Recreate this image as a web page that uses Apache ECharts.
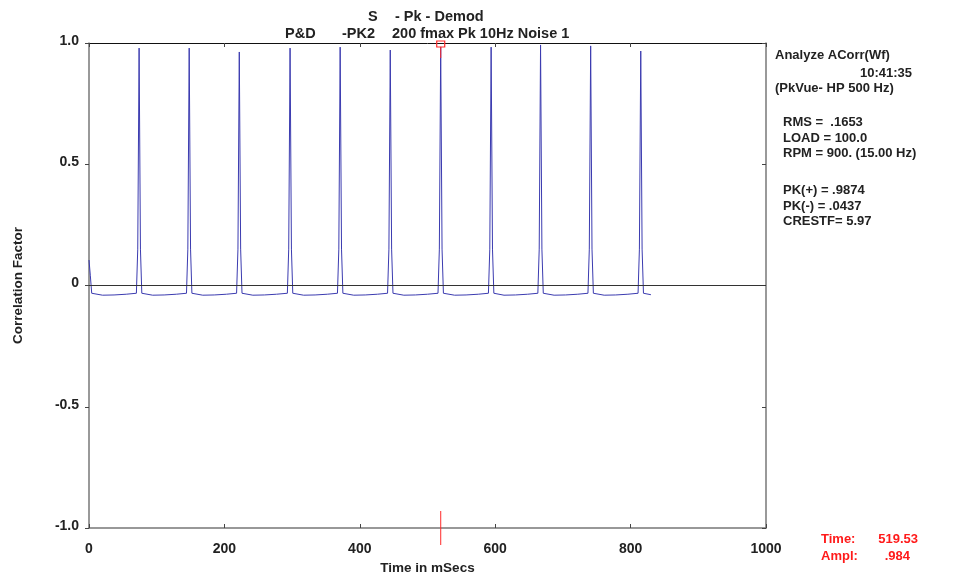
<!DOCTYPE html>
<html>
<head>
  <meta charset="utf-8">
  <title>Analyze ACorr(Wf)</title>
  <script src="https://cdn.jsdelivr.net/npm/echarts@6/dist/echarts.min.js"></script>
</head>
<style media="screen">
  html, body, #chart { margin: 0; padding: 0; width: 957px; height: 581px; background: #fff; }
</style>
<body>
  <div id="chart"></div>
  <script type="text/javascript">
    // autocorrelation trace, [ms, correlation]
    var trace = [
      [0, 0.105], [2, 0.04], [4, -0.032], [20, -0.04], [37, -0.039], [55, -0.036],
      [70, -0.032], [72, 0.15], [74, 0.979], [76, 0.15], [78, -0.032], [94, -0.04], [111, -0.039], [129, -0.036],
      [144, -0.032], [146, 0.15], [148, 0.979], [150, 0.15], [152, -0.032], [168, -0.04], [185, -0.039], [203, -0.036],
      [218, -0.032], [220, 0.15], [222, 0.963], [224, 0.15], [226, -0.032], [242, -0.04], [259, -0.039], [277, -0.036],
      [293, -0.032], [295, 0.15], [297, 0.979], [299, 0.15], [301, -0.032], [317, -0.04], [334, -0.039], [352, -0.036],
      [367, -0.032], [369, 0.15], [371, 0.983], [373, 0.15], [375, -0.032], [391, -0.04], [408, -0.039], [426, -0.036],
      [441, -0.032], [443, 0.15], [445, 0.971], [447, 0.15], [449, -0.032], [465, -0.04], [482, -0.039], [500, -0.036],
      [515.5, -0.032], [517.5, 0.15], [519.5, 0.984], [521.5, 0.15], [523.5, -0.032], [540, -0.04], [557, -0.039], [575, -0.036],
      [590, -0.032], [592, 0.15], [594, 0.983], [596, 0.15], [598, -0.032], [613, -0.04], [630, -0.039], [648, -0.036],
      [663, -0.032], [665, 0.15], [667, 0.992], [669, 0.15], [671, -0.032], [687, -0.04], [704, -0.039], [722, -0.036],
      [737, -0.032], [739, 0.15], [741, 0.988], [743, 0.15], [745, -0.032], [761, -0.04], [778, -0.039], [796, -0.036],
      [811, -0.032], [813, 0.15], [815, 0.967], [817, 0.15], [819, -0.032], [830, -0.038]
    ];
    var cursorTime = 519.53;
    var cursorAmpl = 0.984;
    var xTicks = [0, 200, 400, 600, 800, 1000];
    var yTicks = [-1.0, -0.5, 0, 0.5, 1.0];

    var font = 'Liberation Sans, Arial, sans-serif';
    var ink = '#222';

    // y is the text's vertical centre
    function txt(x, y, s, opt) {
      opt = opt || {};
      var size = opt.size || 13;
      return {
        type: 'text', left: x, top: Math.round(y - size / 2) + 1,
        style: { text: s, fill: opt.color || ink, font: 'bold ' + size + 'px ' + font }
      };
    }
    function rtxt(right, y, s, color) {
      return {
        type: 'text', right: 957 - right, top: Math.round(y - 6.5) + 1,
        style: { text: s, fill: color || ink, font: 'bold 13px ' + font }
      };
    }

    var tickLabel = { color: ink, fontWeight: 'bold', fontSize: 14, fontFamily: font };

    var chart = echarts.init(document.getElementById('chart'));
    chart.setOption({
      animation: false,
      backgroundColor: '#fff',
      grid: { left: 89, right: 191, top: 43, bottom: 53, show: false, outerBoundsMode: 'none', containLabel: false },
      xAxis: [{
        type: 'value', min: xTicks[0], max: xTicks[xTicks.length - 1], interval: 200,
        name: 'Time in mSecs', nameLocation: 'middle', nameGap: 33,
        nameTextStyle: { color: ink, fontWeight: 'bold', fontSize: 13.5, fontFamily: font },
        axisLine: { show: true, onZero: false, lineStyle: { color: '#777', width: 1.5 } },
        axisTick: { show: true, inside: true, length: 4, lineStyle: { color: '#444' } },
        axisLabel: Object.assign({ margin: 14, formatter: function (v) { return String(v); } }, tickLabel),
        splitLine: { show: false }
      }, {
        type: 'value', position: 'top', min: xTicks[0], max: xTicks[xTicks.length - 1], interval: 200,
        axisLine: { show: true, onZero: false, lineStyle: { color: '#111', width: 1 } },
        axisTick: { show: true, inside: true, length: 4, lineStyle: { color: '#444' } },
        axisLabel: { show: false },
        splitLine: { show: false }
      }],
      yAxis: [{
        type: 'value', min: yTicks[0], max: yTicks[yTicks.length - 1], interval: 0.5,
        name: 'Correlation Factor', nameLocation: 'middle', nameGap: 64, nameRotate: 90,
        nameTextStyle: { color: ink, fontWeight: 'bold', fontSize: 13.5, fontFamily: font },
        axisLine: { show: true, onZero: false, lineStyle: { color: '#777', width: 1.5 } },
        axisTick: { show: true, inside: false, length: 4, lineStyle: { color: '#444' } },
        axisLabel: Object.assign({
          margin: 10,
          formatter: function (v) { return '{a|' + (v === 0 ? '0' : v.toFixed(1)) + '}'; },
          rich: { a: { color: ink, fontWeight: 'bold', fontSize: 14, fontFamily: font, padding: [0, 0, 4, 0] } }
        }, tickLabel),
        splitLine: { show: false }
      }, {
        type: 'value', position: 'right', min: yTicks[0], max: yTicks[yTicks.length - 1], interval: 0.5,
        axisLine: { show: true, onZero: false, lineStyle: { color: '#777', width: 1.5 } },
        axisTick: { show: true, inside: true, length: 4, lineStyle: { color: '#444' } },
        axisLabel: { show: false },
        splitLine: { show: false }
      }],
      series: [{
        type: 'line',
        data: trace,
        showSymbol: false,
        symbol: 'none',
        silent: true,
        lineStyle: { color: '#3b3bb0', width: 1 },
        markLine: {
          silent: true, symbol: 'none',
          label: { show: false },
          lineStyle: { color: '#333', width: 1.2, type: 'solid' },
          data: [{ yAxis: 0 }]
        },
        z: 2
      }, {
        type: 'custom',
        silent: true,
        data: [[cursorTime, cursorAmpl]],
        renderItem: function (params, api) {
          var top = api.coord([api.value(0), 1]);
          var bot = api.coord([api.value(0), -1]);
          var red = '#ff2a2a';
          return {
            type: 'group',
            children: [
              { type: 'rect', shape: { x: top[0] - 4, y: top[1] - 2, width: 8, height: 6 },
                style: { fill: 'none', stroke: red, lineWidth: 1.2 } },
              { type: 'line', shape: { x1: top[0], y1: top[1] + 4, x2: top[0], y2: top[1] + 15 },
                style: { stroke: red, lineWidth: 1 } },
              { type: 'line', shape: { x1: bot[0], y1: bot[1] - 17, x2: bot[0], y2: bot[1] + 17 },
                style: { stroke: red, lineWidth: 1 } }
            ]
          };
        },
        z: 3
      }],
      graphic: [
        txt(368, 15, 'S', { size: 14.5 }),
        txt(395, 15, '- Pk - Demod', { size: 14.5 }),
        txt(285, 32, 'P&D', { size: 14.5 }),
        txt(342, 32, '-PK2', { size: 14.5 }),
        txt(392, 32, '200 fmax Pk 10Hz Noise 1', { size: 14.5 }),
        txt(775, 54, 'Analyze ACorr(Wf)'),
        rtxt(912, 72, '10:41:35'),
        txt(775, 87, '(PkVue- HP 500 Hz)'),
        txt(783, 121, 'RMS =  .1653'),
        txt(783, 137, 'LOAD = 100.0'),
        txt(783, 152, 'RPM = 900. (15.00 Hz)'),
        txt(783, 189, 'PK(+) = .9874'),
        txt(783, 205, 'PK(-) = .0437'),
        txt(783, 220, 'CRESTF= 5.97'),
        txt(821, 538, 'Time:', { color: '#ff1a1a' }),
        rtxt(918, 538, cursorTime.toFixed(2), '#ff1a1a'),
        txt(821, 555, 'Ampl:', { color: '#ff1a1a' }),
        rtxt(910, 555, String(cursorAmpl).replace(/^0/, ''), '#ff1a1a')
      ]
    });
  </script>
</body>
</html>
